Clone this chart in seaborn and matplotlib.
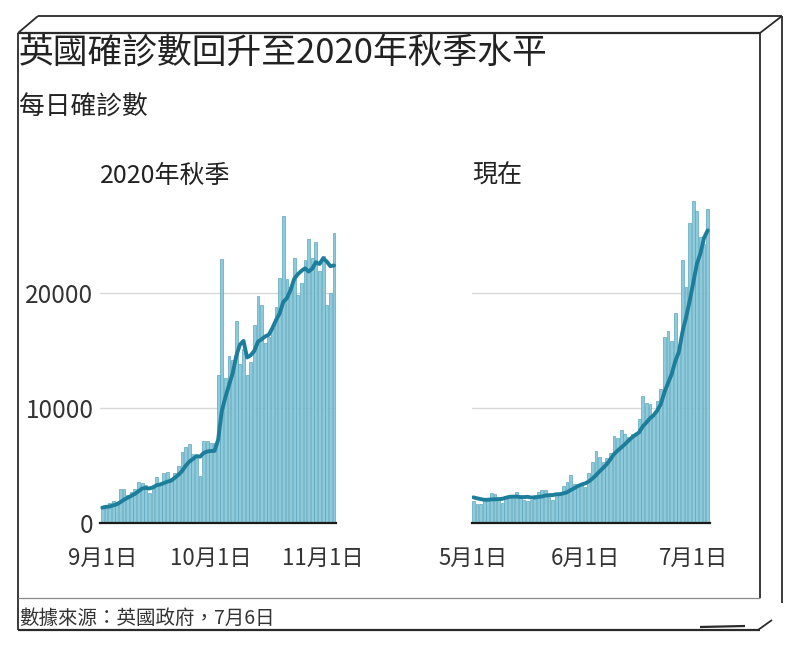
import matplotlib
matplotlib.use("Agg")
import matplotlib.pyplot as plt
import seaborn as sns
import pandas as pd

# ---------------- data ----------------
autumn_ticks = [0, 30, 61]
autumn_tick_labels = ["9月1日", "10月1日", "11月1日"]
# daily cases, 1 Sep - 4 Nov 2020
autumn_cases = [
    1295, 1508, 1735, 1940, 1813, 2988, 2948, 2460, 2659, 2919,
    3539, 3497, 3330, 2621, 3105, 3991, 3395, 4322, 4422, 3899,
    4368, 4926, 6178, 6634, 6874, 6042, 5693, 4044, 7143, 7108,
    6914, 6968, 12872, 22961, 12594, 14542, 14162, 17540, 13864, 15166,
    12872, 13972, 17234, 19724, 18980, 15650, 16171, 16982, 18804, 21331,
    26688, 21242, 20530, 23012, 19790, 20890, 22885, 24701, 23065, 24405,
    21915, 23254, 18950, 20018, 25177,
]
# 7-day average line
autumn_avg = [
    1339, 1404, 1435, 1530, 1630, 1812, 2032, 2199, 2363, 2532,
    2761, 3001, 3050, 3004, 3096, 3286, 3354, 3466, 3598, 3679,
    3929, 4189, 4501, 4964, 5329, 5560, 5816, 5770, 6087, 6220,
    6260, 6273, 7249, 9716, 10937, 11994, 13002, 14520, 15505, 15833,
    14391, 14588, 14973, 15767, 15973, 16228, 16372, 16959, 17649, 18235,
    19229, 19553, 20250, 21227, 21628, 21926, 22148, 21864, 22125, 22678,
    22522, 23016, 22739, 22330, 22398,
]

now_ticks = [0, 31, 61]
now_tick_labels = ["5月1日", "6月1日", "7月1日"]
# daily cases, 1 May - 5 Jul 2021
now_cases = [
    1907, 1671, 1649, 1946, 2166, 2613, 2490, 2047, 1770, 2357,
    2474, 2284, 2657, 2193, 2027, 1926, 1979, 2412, 2696, 2874,
    2829, 2235, 1979, 2439, 2493, 3180, 3542, 4182, 3398, 3240,
    3383, 3165, 4330, 5274, 6238, 5765, 5341, 5683, 6048, 7540,
    7393, 8125, 7738, 7490, 7742, 7673, 9055, 11007, 10476, 10321,
    9284, 10633, 11625, 16135, 16703, 15810, 18270, 14876, 22868, 20479,
    26068, 27989, 27125, 24885, 24248, 27334,
]
now_avg = [
    2230, 2150, 2080, 2019, 2019, 2052, 2063, 2083, 2097, 2198,
    2274, 2291, 2297, 2255, 2252, 2274, 2220, 2211, 2270, 2301,
    2392, 2422, 2429, 2495, 2506, 2576, 2671, 2864, 3030, 3211,
    3345, 3441, 3606, 3853, 4147, 4485, 4785, 5114, 5526, 5984,
    6287, 6556, 6838, 7145, 7439, 7672, 7888, 8404, 8740, 9109,
    9365, 9778, 10343, 11354, 12168, 12930, 14066, 14865, 16612, 17877,
    19296, 20909, 22525, 23470, 24809, 25447,
]

y_ticks = [0, 10000, 20000]
y_tick_labels = ["0", "10000", "20000"]

title = "英國確診數回升至2020年秋季水平"
subtitle = "每日確診數"
panel_titles = ["2020年秋季", "現在"]
source = "數據來源：英國政府，7月6日"

# ---------------- style ----------------
sns.set_theme(style="white")
plt.rcParams['font.family'] = ['Noto Sans CJK TC', 'DejaVu Sans']

BAR_FACE = "#8dcbdc"
BAR_EDGE = "#5ba6bc"
LINE = "#1d7e9c"
FRAME = "#2a2a2a"
TEXT = "#222222"

W, H = 800, 645
fig = plt.figure(figsize=(W / 100, H / 100), dpi=100)
fig.patch.set_facecolor("white")

bg = fig.add_axes([0, 0, 1, 1], zorder=0)
bg.set_xlim(0, W)
bg.set_ylim(H, 0)
bg.axis("off")


def px_axes(x0, y0, x1, y1):
    ax = fig.add_axes([x0 / W, 1 - y1 / H, (x1 - x0) / W, (y1 - y0) / H], zorder=2)
    ax.patch.set_alpha(0)
    return ax


# ---------------- frame ----------------
def seg(x0, y0, x1, y1, color=FRAME, lw=1.3):
    bg.plot([x0, x1], [y0, y1], color=color, lw=lw, solid_capstyle="butt")


seg(18, 33, 760, 33, lw=1.6)
seg(38, 16, 782, 16, lw=1.3)
seg(18, 33, 38, 16)
seg(760, 33, 782, 16)
seg(18, 33, 18, 630)
seg(760, 33, 760, 598)
seg(782, 16, 782, 603)
seg(18, 630, 760, 630, lw=1.6)
seg(18, 598, 760, 598, color="#8a8a8a", lw=0.9)
seg(700, 627, 745, 626, lw=1.6)
seg(758, 630, 772, 620)

# ---------------- texts ----------------
bg.text(19, 53, title, fontsize=25, ha="left", va="center", color=TEXT)
bg.text(19, 108, subtitle, fontsize=18.5, ha="left", va="center", color=TEXT)
bg.text(100, 176, panel_titles[0], fontsize=18, ha="left", va="center", color=TEXT)
bg.text(472, 176, panel_titles[1], fontsize=18, ha="left", va="center", color=TEXT)
bg.text(19, 618, source, fontsize=14, ha="left", va="center", color="#333333")

# ---------------- panels ----------------
panels = [
    (px_axes(100.5, 201, 335.8, 523), autumn_cases, autumn_avg, autumn_ticks, autumn_tick_labels, True),
    (px_axes(471.5, 201, 709.5, 523), now_cases, now_avg, now_ticks, now_tick_labels, False),
]

for ax, cases, avg, ticks, tlabels, show_y in panels:
    df = pd.DataFrame({"day": list(range(len(cases))), "cases": cases, "avg": avg})
    sns.barplot(data=df, x="day", y="cases", native_scale=True, color=BAR_FACE,
                saturation=1, width=0.78, edgecolor=BAR_EDGE, linewidth=0.5,
                errorbar=None, ax=ax, zorder=2)
    sns.lineplot(data=df, x="day", y="avg", color=LINE, lw=2.8, ax=ax, zorder=3)
    ax.set_xlim(-0.5, len(cases) - 0.5)
    ax.set_ylim(0, 28000)
    ax.set_xlabel("")
    ax.set_ylabel("")
    ax.set_xticks(ticks)
    ax.set_xticklabels(tlabels)
    ax.set_yticks(y_ticks)
    ax.set_yticklabels(y_tick_labels if show_y else [""] * len(y_ticks))
    ax.yaxis.grid(True, color="#d9d9d9", lw=1)
    ax.xaxis.grid(False)
    ax.set_axisbelow(True)
    for s in ("top", "left", "right"):
        ax.spines[s].set_visible(False)
    ax.spines["bottom"].set_color("#1a1a1a")
    ax.spines["bottom"].set_linewidth(1.6)
    ax.spines["bottom"].set_zorder(4)
    ax.tick_params(axis="x", length=5, width=1, color="#999999", pad=12,
                   labelsize=16, labelcolor="#333333")
    ax.tick_params(axis="y", length=0, pad=5, labelsize=17.5, labelcolor="#333333")

fig.savefig("out.png", dpi=100, facecolor="white")
